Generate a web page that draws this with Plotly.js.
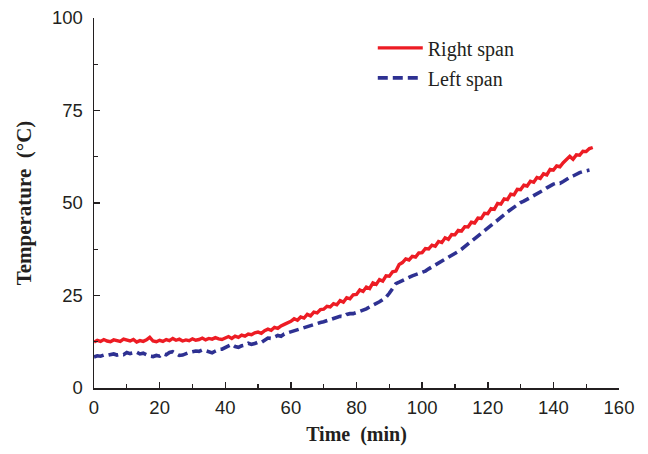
<!DOCTYPE html>
<html><head><meta charset="utf-8">
<script src="https://cdn.plot.ly/plotly-3.0.1.min.js"></script>
<style>html,body{margin:0;padding:0;background:#fff}#chart{width:648px;height:454px}</style>
</head><body><div id="chart"></div>
<script>
// Right span: one reading per minute, t = 0..152
const rightTemps = [
12.4,12.9,12.6,13.1,12.7,12.5,13.0,12.8,12.6,13.2,
12.9,12.7,13.1,12.4,12.8,12.6,13.0,13.7,12.7,12.5,
12.9,12.6,13.1,12.8,13.4,12.9,13.2,12.7,13.0,12.8,
13.3,12.9,13.1,13.5,13.0,13.4,13.2,13.6,13.3,13.1,
13.5,13.9,13.4,14.0,13.7,14.3,14.0,14.6,14.4,14.9,
15.1,14.8,15.5,15.9,15.6,16.4,16.1,16.8,17.2,17.5,
18.0,18.7,18.3,19.2,18.9,19.9,19.5,20.5,20.3,21.2,
21.3,22.1,21.9,22.8,22.5,23.6,23.2,24.4,24.1,25.2,
25.3,26.5,26.1,27.3,26.9,28.4,28.0,29.3,28.9,30.3,
30.2,31.4,31.6,33.4,33.9,34.9,34.6,35.6,35.4,36.5,
36.6,37.7,37.6,38.6,38.3,39.6,39.3,40.6,40.2,41.5,
41.4,42.6,42.4,43.6,43.5,44.8,44.6,45.9,45.8,47.2,
47.1,48.5,48.3,49.9,49.7,51.1,50.9,52.4,52.2,53.7,
53.6,54.8,54.6,55.9,55.6,56.9,56.6,57.9,57.6,59.1,
58.9,60.0,59.8,60.9,61.8,62.6,61.8,63.0,62.9,64.0,
63.9,64.7,65.0];
// Left span: one reading per minute, t = 0..151
const leftTemps = [
8.4,8.7,8.6,8.9,8.8,9.0,9.2,8.9,9.1,9.0,
9.6,9.3,9.4,9.7,9.2,9.4,9.0,8.6,8.5,8.8,
8.6,9.3,9.0,9.6,9.8,9.4,8.8,8.9,9.3,9.6,
9.8,10.0,9.9,10.3,10.1,9.7,9.5,10.0,10.4,10.5,
10.9,11.3,11.8,11.2,11.0,11.4,11.6,12.1,11.8,12.0,
12.4,12.3,12.9,13.5,13.4,13.9,14.2,14.0,14.6,14.9,
15.2,15.5,15.6,15.9,16.4,16.6,17.0,17.3,17.5,17.7,
17.9,18.2,18.4,18.8,18.9,19.4,19.3,19.9,20.1,20.1,
20.4,20.7,21.0,21.4,21.9,22.3,22.8,23.3,23.9,24.5,
25.6,27.0,28.2,28.6,29.1,29.6,29.9,30.3,30.6,31.1,
31.4,31.6,32.2,32.7,33.4,33.9,34.3,34.9,35.3,35.8,
36.4,36.9,37.5,38.2,38.8,39.6,40.3,40.9,41.7,42.3,
43.0,43.8,44.6,45.4,46.1,46.8,47.6,48.3,48.9,49.5,
50.1,50.5,51.0,51.5,51.9,52.3,52.8,53.5,54.1,54.7,
55.1,55.4,55.3,55.8,56.4,56.9,57.3,57.8,58.2,58.5,
58.7,58.9];
const rightTime = rightTemps.map((_, i) => i);
const leftTime = leftTemps.map((_, i) => i);
const seriesNames = ["Right span", "Left span"];
const xTicks = [0,20,40,60,80,100,120,140,160];
const yTicks = [0,25,50,75,100];

const axisFont = {family: "Liberation Sans, Arial, sans-serif", size: 18.5, color: "#231f20"};
const titleFont = {family: "Liberation Serif, Times New Roman, serif", size: 20, color: "#231f20", weight: "bold"};

const traces = [
  {x: rightTime, y: rightTemps, name: seriesNames[0], mode: "lines", legendgroup: "a",
   line: {color: "#ed1c24", width: 3.4}},
  {x: leftTime, y: leftTemps, name: seriesNames[1], mode: "lines", legendgroup: "b",
   line: {color: "#2e3192", width: 3.6, dash: "10px,5px"}}
];
const layout = {
  width: 648, height: 454,
  margin: {l: 94, r: 29, t: 18, b: 66},
  paper_bgcolor: "#fff", plot_bgcolor: "#fff",
  showlegend: true,
  legend: {x: 0.531, y: 0.972, xanchor: "left", yanchor: "top", bgcolor: "rgba(0,0,0,0)",
    font: {family: "Liberation Serif, Times New Roman, serif", size: 20, color: "#231f20"},
    tracegroupgap: 1, traceorder: "grouped", itemwidth: 45},
  xaxis: {range: [0, 160], tickvals: xTicks, ticktext: xTicks.map(String),
    showgrid: false, zeroline: false, showline: true, linecolor: "#231f20", linewidth: 1.5,
    ticks: "inside", ticklen: 6, tickwidth: 1.5, tickcolor: "#231f20",
    minor: {dtick: 10, tick0: 0, ticks: "inside", ticklen: 4, tickwidth: 1.2, tickcolor: "#231f20", showgrid: false},
    tickfont: axisFont, ticklabelstandoff: 2,
    title: {text: "Time  (min)", font: titleFont, standoff: 10}},
  yaxis: {range: [0, 100], tickvals: yTicks, ticktext: yTicks.map(String),
    showgrid: false, zeroline: false, showline: true, linecolor: "#231f20", linewidth: 1.5,
    ticks: "inside", ticklen: 6, tickwidth: 1.5, tickcolor: "#231f20",
    minor: {dtick: 12.5, tick0: 0, ticks: "inside", ticklen: 4, tickwidth: 1.2, tickcolor: "#231f20", showgrid: false},
    tickfont: axisFont, ticklabelstandoff: 6,
    title: {text: "Temperature  (°C)", font: {family: "Liberation Serif, Times New Roman, serif", size: 21, color: "#231f20", weight: "bold"}, standoff: 14}}
};
Plotly.newPlot("chart", traces, layout, {displayModeBar: false, staticPlot: true});
</script>
</body></html>
